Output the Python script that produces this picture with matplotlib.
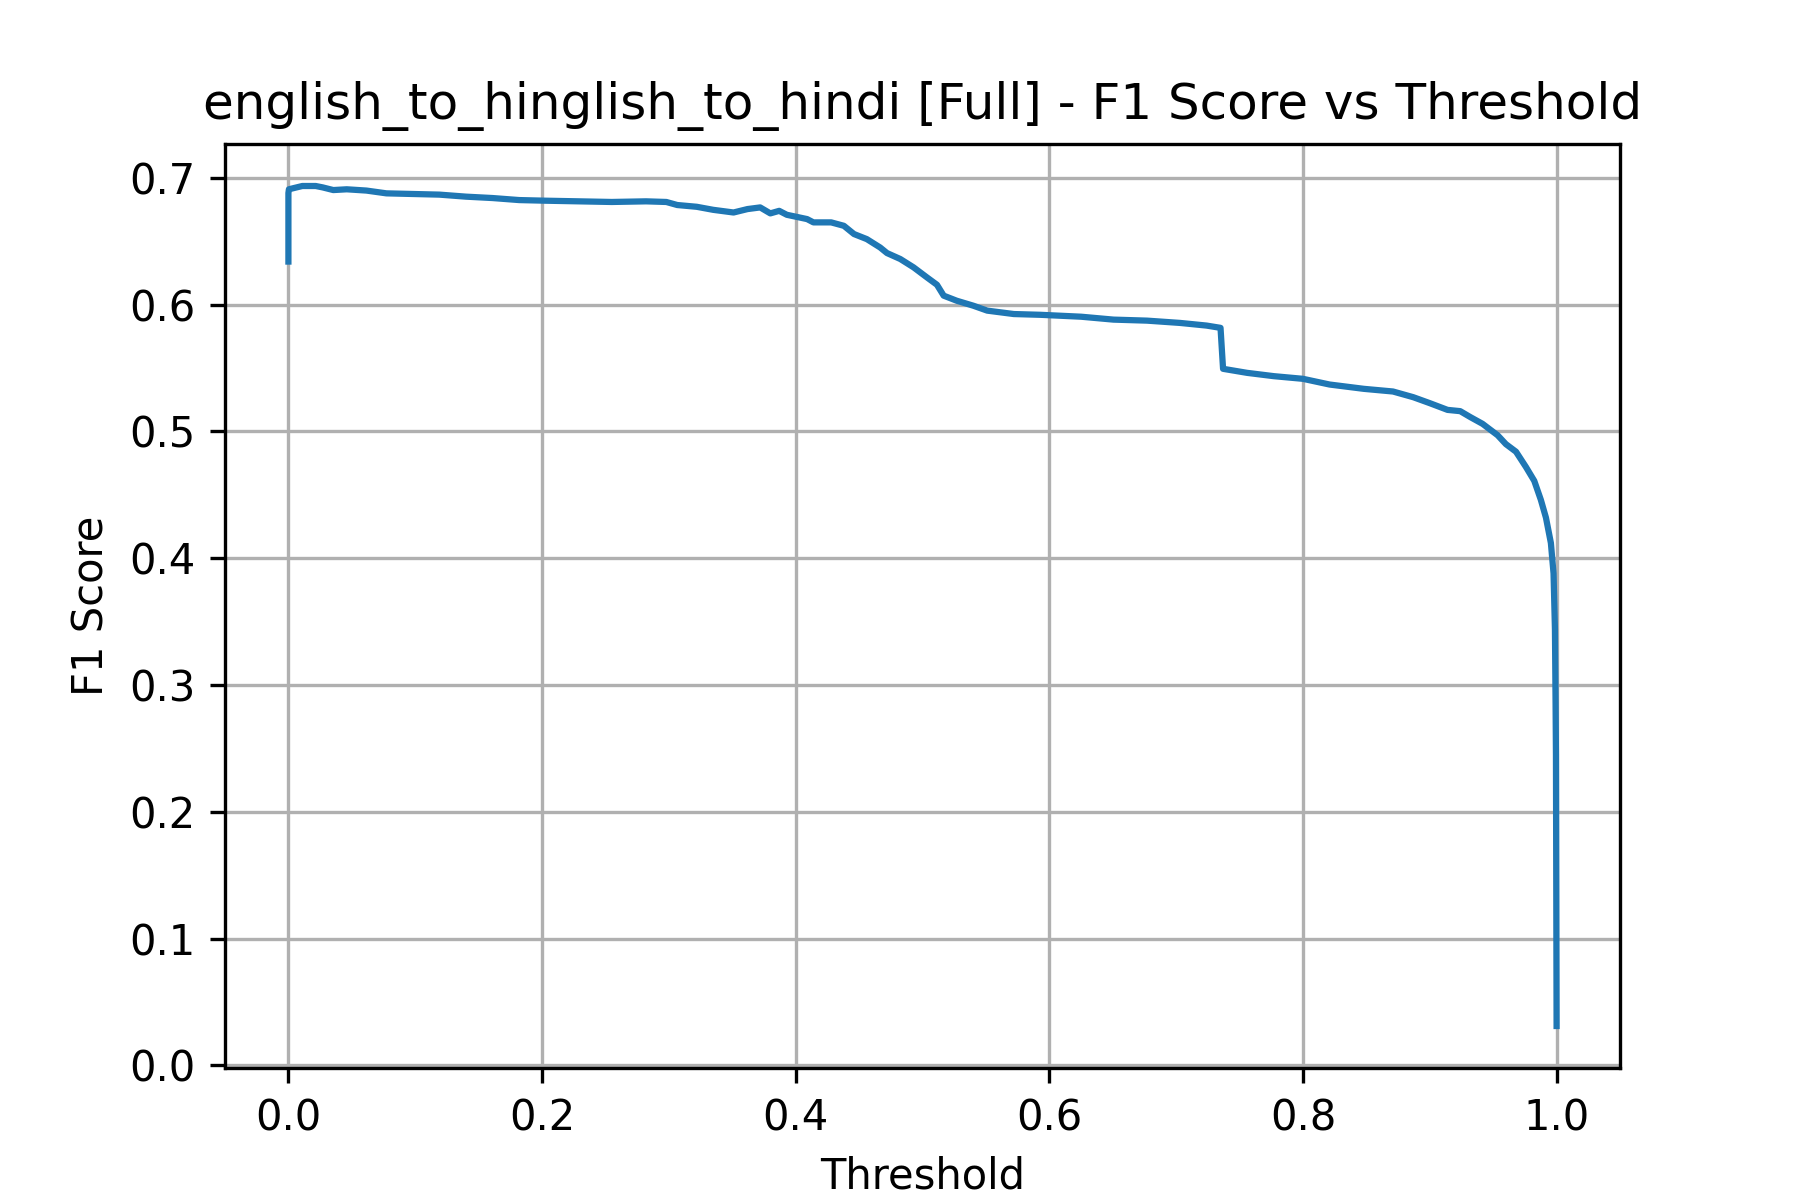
import matplotlib
matplotlib.use("Agg")
import matplotlib.pyplot as plt

# values
thresholds = [0.0, 0.0, 0.0004, 0.0044, 0.011, 0.0215, 0.027, 0.0354, 0.046, 0.0615,
              0.0773, 0.098, 0.119, 0.140, 0.161, 0.182, 0.203, 0.229, 0.255, 0.282,
              0.298, 0.3066, 0.322, 0.335, 0.351, 0.362, 0.372, 0.380, 0.387, 0.393,
              0.409, 0.414, 0.428, 0.438, 0.446, 0.4561, 0.4666, 0.472, 0.4825, 0.493,
              0.5035, 0.5114, 0.5167, 0.527, 0.540, 0.551, 0.572, 0.593, 0.625, 0.6506,
              0.677, 0.703, 0.724, 0.735, 0.737, 0.756, 0.777, 0.800, 0.821, 0.848,
              0.871, 0.887, 0.900, 0.914, 0.924, 0.932, 0.9416, 0.9535, 0.960, 0.968,
              0.9758, 0.9824, 0.9876, 0.9916, 0.9955, 0.9976, 0.9987, 0.9992, 0.9995, 1.0]
f1_scores = [0.634, 0.688, 0.691, 0.692, 0.6936, 0.6936, 0.6925, 0.6904, 0.691, 0.690,
             0.6878, 0.6873, 0.6868, 0.6852, 0.6841, 0.6825, 0.682, 0.6815, 0.681, 0.6815,
             0.681, 0.6786, 0.6772, 0.6748, 0.6727, 0.6754, 0.6767, 0.672, 0.674, 0.6709,
             0.6675, 0.6649, 0.6649, 0.6622, 0.6557, 0.6517, 0.6451, 0.6407, 0.6360, 0.6294,
             0.6215, 0.6157, 0.6071, 0.6031, 0.5992, 0.5953, 0.5926, 0.592, 0.5905, 0.5882,
             0.5874, 0.5856, 0.5835, 0.5817, 0.5494, 0.5462, 0.5436, 0.5415, 0.5370, 0.5336,
             0.5315, 0.527, 0.5223, 0.517, 0.516, 0.5113, 0.506, 0.497, 0.490, 0.484,
             0.472, 0.461, 0.446, 0.432, 0.412, 0.388, 0.344, 0.286, 0.245, 0.031]

fig, ax = plt.subplots(figsize=(6, 4), dpi=300)
ax.plot(thresholds, f1_scores)
ax.set_title("english_to_hinglish_to_hindi [Full] - F1 Score vs Threshold")
ax.set_xlabel("Threshold")
ax.set_ylabel("F1 Score")
ax.grid(True)

fig.savefig("out.png", dpi=300)
